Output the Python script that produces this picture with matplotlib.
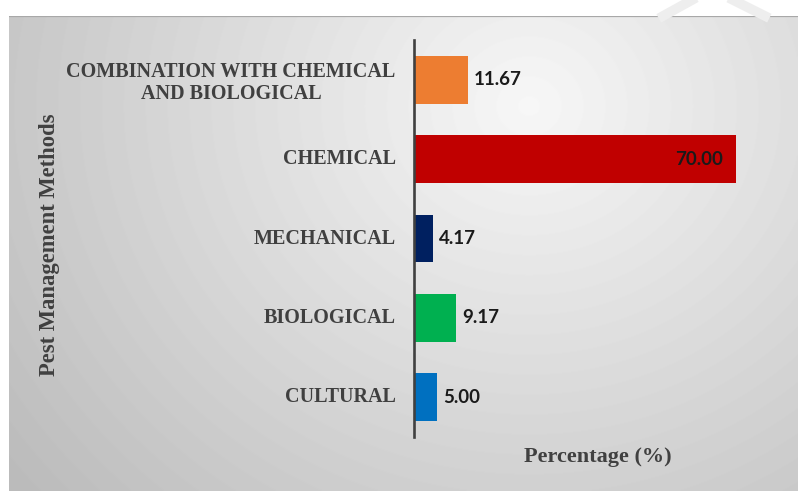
import matplotlib.pyplot as plt
import numpy as np

# data (bottom to top)
methods = ['CULTURAL', 'BIOLOGICAL', 'MECHANICAL', 'CHEMICAL',
           'COMBINATION WITH CHEMICAL\nAND BIOLOGICAL']
percent = [5.00, 9.17, 4.17, 70.00, 11.67]
colors = ['#0070C0', '#00B050', '#002060', '#C00000', '#ED7D31']

W, H = 798, 491
fig = plt.figure(figsize=(W / 100, H / 100), dpi=100)
fig.patch.set_facecolor('white')

# gradient background panel
bg = fig.add_axes([9 / W, 0, (W - 9) / W, (H - 16) / H])
bg.set_axis_off()
yy, xx = np.mgrid[0:475, 0:789]
d = np.sqrt(((xx - 520) / 1.1) ** 2 + ((yy - 90) / 1.0) ** 2)
val = np.clip(247 - 0.1 * d, 188, 247) / 255.0
bg.imshow(val, cmap='gray', vmin=0, vmax=1, aspect='auto',
          extent=[0, 1, 0, 1], origin='upper')
bg.set_xlim(0, 1)
bg.set_ylim(0, 1)
bg.axhline(1, color='#a8a8a8', lw=1.6)

# faint watermark strokes at top right
fig.add_artist(plt.Line2D([663 / W, 692 / W], [1 - 16 / H, 1.0],
                          color='#eeeeee', lw=7, transform=fig.transFigure))
fig.add_artist(plt.Line2D([733 / W, 765 / W], [1.0, 1 - 16 / H],
                          color='#eeeeee', lw=7, transform=fig.transFigure))

# main axes
x0, x1 = 414, 792
y_top, y_bot = 40, 437
ax = fig.add_axes([x0 / W, (H - y_bot) / H, (x1 - x0) / W, (y_bot - y_top) / H])
ax.patch.set_alpha(0)
scale = 4.6
ax.set_xlim(0, (x1 - x0) / scale)
ax.set_ylim(-0.5, len(methods) - 0.5)

ypos = np.arange(len(methods))
ax.barh(ypos, percent, height=0.6, color=colors)

for y, v in zip(ypos, percent):
    if v > 50:
        ax.text(v - 2.8, y, f'{v:.2f}', ha='right', va='center',
                fontsize=13.5, fontweight='bold', family='Lato', color='#1a1a1a')
    else:
        ax.text(v + 1.3, y, f'{v:.2f}', ha='left', va='center',
                fontsize=13.5, fontweight='bold', family='Lato', color='#1a1a1a')

for s in ['top', 'right', 'bottom']:
    ax.spines[s].set_visible(False)
ax.spines['left'].set_color('#404040')
ax.spines['left'].set_linewidth(1.9)
ax.set_xticks([])
ax.set_yticks([])

# category labels: single lines right-aligned, wrapped label centred
for y, m in zip(ypos, methods):
    if '\n' in m:
        xa, ha, yo = (231 - x0) / (x1 - x0), 'center', -0.04
    else:
        xa, ha, yo = (396 - x0) / (x1 - x0), 'right', 0
    ax.text(xa, y + yo, m, transform=ax.get_yaxis_transform(),
            ha=ha, va='center', multialignment='center',
            family='Liberation Serif', fontweight='bold', fontsize=14.5,
            color='#404040', linespacing=1.15)

fig.text(50 / W, 1 - 245 / H, 'Pest Management Methods', rotation=90,
         ha='center', va='center', family='Liberation Serif',
         fontweight='bold', fontsize=16.3, color='#404040')
fig.text(598 / W, 1 - 457 / H, 'Percentage (%)', ha='center', va='center',
         family='Liberation Serif', fontweight='bold', fontsize=16,
         color='#404040')

fig.savefig('out.png', dpi=100)
